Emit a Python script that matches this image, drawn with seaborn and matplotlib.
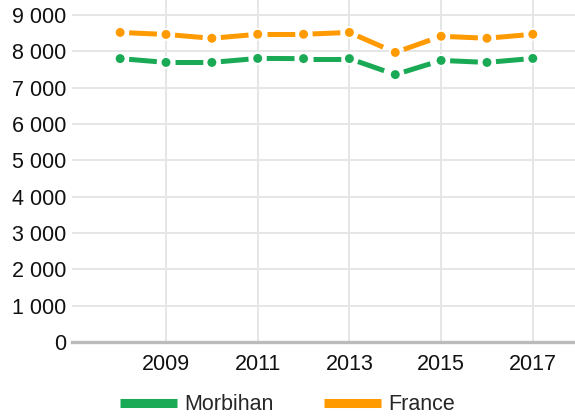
import pandas as pd
import seaborn as sns
import matplotlib.pyplot as plt
from matplotlib.lines import Line2D
from matplotlib.ticker import FuncFormatter

# Values
years = [2008, 2009, 2010, 2011, 2012, 2013, 2014, 2015, 2016, 2017]
morbihan = [7800, 7695, 7695, 7805, 7800, 7800, 7360, 7750, 7695, 7805]
france = [8520, 8465, 8360, 8470, 8470, 8520, 7970, 8415, 8360, 8470]
series_names = ['Morbihan', 'France']
series_colors = ['#1aaa55', '#ff9a00']
x_ticks = [2009, 2011, 2013, 2015, 2017]
y_ticks = [0, 1000, 2000, 3000, 4000, 5000, 6000, 7000, 8000, 9000]

# one small two-point piece per interval, so every piece gets its own centred dash
rows = []
for name, values in zip(series_names, [morbihan, france]):
    for i in range(len(years) - 1):
        for j in (i, i + 1):
            rows.append({'year': years[j], 'value': values[j], 'zone': name,
                         'seg': f'{name}{i}'})
seg_df = pd.DataFrame(rows)
pts_df = pd.DataFrame({
    'year': years * 2,
    'value': morbihan + france,
    'zone': ['Morbihan'] * len(years) + ['France'] * len(years),
})

sns.set_style('white')
plt.rcParams['font.family'] = ['Liberation Sans', 'DejaVu Sans']
plt.rcParams['lines.scale_dashes'] = False

fig = plt.figure(figsize=(5.75, 4.18), dpi=100)
ax = fig.add_axes([72 / 575, 1 - 342 / 418, 503 / 575, 342 / 418])

palette = dict(zip(series_names, series_colors))
sns.lineplot(data=seg_df, x='year', y='value', hue='zone', hue_order=series_names,
             units='seg', estimator=None, palette=palette, linewidth=3.6,
             legend=False, ax=ax, zorder=3)
for line in ax.lines:
    line.set_linestyle((53.5, (20, 40)))
    line.set_dash_capstyle('butt')
    line.set_clip_on(False)

sns.scatterplot(data=pts_df, x='year', y='value', hue='zone', hue_order=series_names,
                palette=palette, s=60, linewidth=1.3, edgecolor='white',
                legend=False, ax=ax, zorder=4, clip_on=False)

ax.set_xlim(2006.95, 2017.92)
ax.set_ylim(0, 9413)
ax.set_xticks(x_ticks)
ax.set_yticks(y_ticks)
ax.yaxis.set_major_formatter(FuncFormatter(lambda v, p: f"{int(v):,}".replace(',', ' ')))
ax.set_xlabel('')
ax.set_ylabel('')

ax.grid(True, color='#e6e6e6', linewidth=1.44)
ax.set_axisbelow(True)
for side in ['top', 'right', 'left']:
    ax.spines[side].set_visible(False)
ax.spines['bottom'].set_color('#bbbbbb')
ax.spines['bottom'].set_linewidth(2.4)

ax.tick_params(axis='x', length=4.3, width=1.44, color='#e6e6e6', pad=4,
               labelsize=15.5, labelcolor='#111111')
ax.tick_params(axis='y', length=0, pad=4.3, labelsize=15.5, labelcolor='#111111')

handles = [Line2D([], [], color=c, linewidth=6.5, solid_capstyle='butt')
           for c in series_colors]
fig.legend(handles, series_names, loc='center', bbox_to_anchor=(0.5, 1 - 405 / 418),
           ncol=2, frameon=False, fontsize=15.5, handlelength=2.65,
           handletextpad=0.37, columnspacing=2.3, borderpad=0, borderaxespad=0)

plt.savefig('out.png', dpi=100)
